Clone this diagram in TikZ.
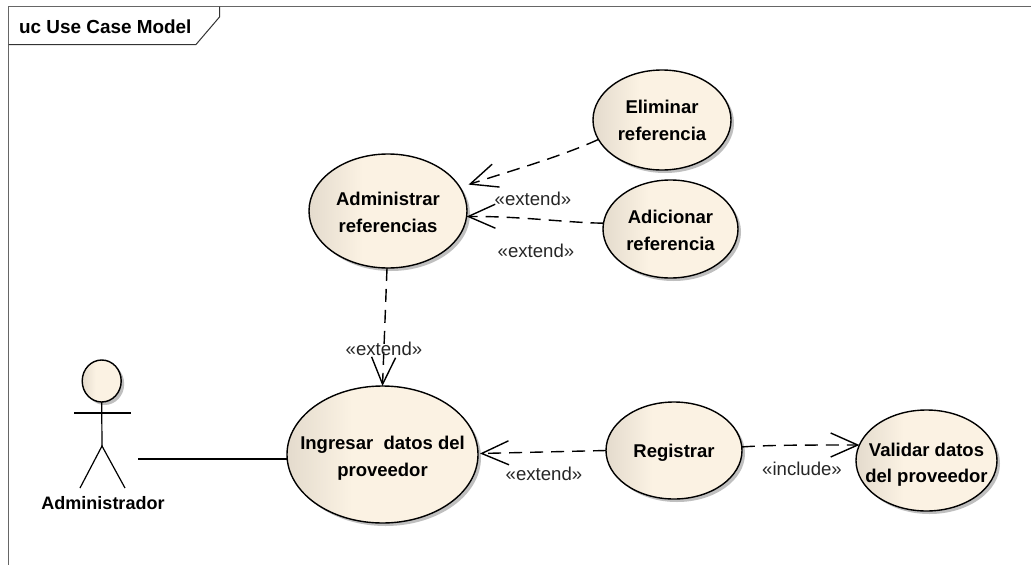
\documentclass[tikz,border=0pt]{standalone}
\usepackage{fontspec}
\setmainfont{Liberation Sans}
\usetikzlibrary{arrows.meta,shapes.geometric,shadows}
\definecolor{ucdark}{HTML}{E4DBCD}
\definecolor{uclight}{HTML}{FBF2E3}
\pgfdeclarehorizontalshading{ucshade}{100bp}{color(0bp)=(ucdark); color(25bp)=(ucdark); color(42bp)=(uclight); color(100bp)=(uclight)}
\newcommand{\uclines}[3]{\raisebox{#1}[0pt][0pt]{\makebox[0pt]{\begin{tabular}{@{}c@{}}#2\\#3\end{tabular}}}}
\tikzset{
  ucase/.style={ellipse,draw=black,line width=1.4pt,shading=ucshade,inner sep=0pt,outer sep=0pt,
    font=\fontsize{18.5}{26.5}\selectfont\bfseries,
    drop shadow={shadow xshift=3pt,shadow yshift=-3pt,fill=black!25,opacity=1}},
  stereo/.style={font=\fontsize{18.6}{20}\selectfont,inner sep=0pt,text=black!85},
  dep/.style={line width=1.4pt,dash pattern=on 13pt off 8pt,-{Straight Barb[length=27pt,width=24pt,line width=1.4pt]}},
  limb/.style={line width=1.2pt},
  framebar/.style={line width=1.2pt,draw=black!60},
  tabline/.style={line width=1pt,draw=black!80}
}
\begin{document}
\begin{tikzpicture}[x=1pt,y=-1pt]
\useasboundingbox (0,0) rectangle (1031,565);
\fill[white] (0,0) rectangle (1031,565);
% frame
\coordinate (fa) at (8.5,565);
\coordinate (fb) at (8.5,6.5);
\coordinate (fc) at (1031,6.5);
\coordinate (ta) at (8.5,44.5);
\coordinate (tb) at (196,44.5);
\coordinate (tc) at (219.5,17);
\coordinate (te) at (219.5,6.5);
\draw[framebar] (fa) -- (fb) -- (fc);
\draw[tabline] (ta) -- (tb) -- (tc) -- (te);
\node[anchor=west,inner sep=0pt,font=\fontsize{18.9}{20}\selectfont\bfseries] (title) at (19,27) {uc Use Case Model};
% use cases
\node[ucase,minimum width=158pt,minimum height=114pt] (adm) at (388,211) {\uclines{-7pt}{Administrar}{referencias}};
\node[ucase,minimum width=138pt,minimum height=100pt] (eli) at (662,120) {\uclines{-6pt}{Eliminar}{referencia}};
\node[ucase,minimum width=135pt,minimum height=98pt] (adi) at (670.5,229) {\uclines{-7pt}{Adicionar}{referencia}};
\node[ucase,minimum width=191pt,minimum height=137pt] (ing) at (382.5,454.5) {\uclines{-7.6pt}{Ingresar\ \ datos del}{proveedor}};
\node[ucase,minimum width=136pt,minimum height=97pt] (reg) at (674,450.5) {\raisebox{-6.5pt}[0pt][0pt]{\makebox[0pt]{Registrar}}};
\node[ucase,minimum width=141pt,minimum height=101pt] (val) at (926.5,460.5) {\uclines{-8pt}{Validar datos}{del proveedor}};
% actor
\node[ucase,minimum width=39pt,minimum height=42pt] (head) at (101.7,381) {};
\coordinate (armL) at (74,413);
\coordinate (armR) at (131,413);
\coordinate (hip) at (102,446);
\coordinate (legL) at (80,488);
\coordinate (legR) at (125,488);
\draw[limb] (head.south) -- (hip);
\draw[limb] (armL) -- (armR);
\draw[limb] (legL) -- (hip) -- (legR);
\node[inner sep=0pt,font=\fontsize{18}{20}\selectfont\bfseries] (actorname) at (103,503) {Administrador};
% connectors
\coordinate (actorend) at (138,459);
\draw[limb] (actorend) -- (ing.west |- actorend);
\draw[dep] (eli.197) .. controls (560,157) and (510,171) .. ([shift={(8.5,-3)}]adm.18);
\draw[dep] (adi.175) .. controls (570,223) and (520,216) .. (adm.-4);
\draw[dep] (adm.269) -- (ing.north);
\draw[dep] (reg.west) -- ([shift={(2,-1)}]ing.east);
\draw[dep] (reg.3) .. controls (770,445) and (800,445) .. (val.167);
% labels
\node[stereo] (l1) at (533,199) {«extend»};
\node[stereo] (l2) at (536,251) {«extend»};
\node[stereo] (l3) at (384,349) {«extend»};
\node[stereo] (l4) at (544,474) {«extend»};
\node[stereo] (l5) at (802,469) {«include»};
\end{tikzpicture}
\end{document}
